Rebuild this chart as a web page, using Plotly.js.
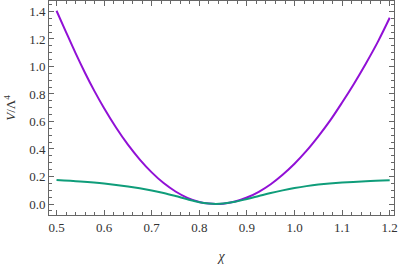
<!DOCTYPE html>
<html>
<head>
<meta charset="utf-8">
<script src="https://cdn.plot.ly/plotly-3.0.1.min.js"></script>
<style>html,body{margin:0;padding:0;background:#fff;}#plot{width:399px;height:266px;}</style>
</head>
<body>
<div id="plot"></div>
<script>
// chi values and potentials
const chiPurple = [0.50, 0.52, 0.54, 0.56, 0.58, 0.60, 0.625, 0.65, 0.675, 0.70, 0.725, 0.75, 0.775, 0.80, 0.82, 0.835, 0.85, 0.875, 0.90, 0.925, 0.95, 0.975, 1.00, 1.025, 1.05, 1.075, 1.10, 1.125, 1.15, 1.175, 1.20];
const vPurple   = [1.405, 1.250, 1.097, 0.953, 0.819, 0.696, 0.556, 0.431, 0.323, 0.230, 0.152, 0.091, 0.045, 0.015, 0.003, 0.0, 0.0025, 0.018, 0.047, 0.089, 0.144, 0.213, 0.293, 0.386, 0.492, 0.608, 0.738, 0.875, 1.022, 1.179, 1.354];

const chiGreen = [0.50, 0.55, 0.60, 0.65, 0.70, 0.725, 0.75, 0.775, 0.80, 0.82, 0.835, 0.85, 0.875, 0.90, 0.925, 0.95, 0.975, 1.00, 1.025, 1.05, 1.10, 1.15, 1.20];
const vGreen   = [0.175, 0.164, 0.149, 0.127, 0.098, 0.080, 0.058, 0.034, 0.013, 0.003, 0.0, 0.003, 0.016, 0.036, 0.058, 0.080, 0.099, 0.116, 0.130, 0.141, 0.156, 0.166, 0.172];

const xTickVals = [0.5, 0.6, 0.7, 0.8, 0.9, 1.0, 1.1, 1.2];
const xTickText = ["0.5", "0.6", "0.7", "0.8", "0.9", "1.0", "1.1", "1.2"];
const yTickVals = [0.0, 0.2, 0.4, 0.6, 0.8, 1.0, 1.2, 1.4];
const yTickText = ["0.0", "0.2", "0.4", "0.6", "0.8", "1.0", "1.2", "1.4"];

const SERIF = '"Liberation Serif", "Times New Roman", serif';

const traces = [
  {x: chiPurple, y: vPurple, mode: 'lines', line: {color: '#9110d6', width: 2, shape: 'spline', smoothing: 1}, hoverinfo: 'skip'},
  {x: chiGreen, y: vGreen, mode: 'lines', line: {color: '#0f9d7a', width: 2, shape: 'spline', smoothing: 1}, hoverinfo: 'skip'}
];

const axisCommon = {
  showgrid: false, zeroline: false, showline: true, linecolor: '#666', linewidth: 1,
  mirror: 'allticks', ticks: 'inside', ticklen: 5, tickcolor: '#666', tickwidth: 1,
  tickfont: {family: SERIF, size: 13, color: '#333'}
};

const layout = {
  width: 399, height: 266,
  margin: {l: 49, r: 5, t: 1, b: 51},
  paper_bgcolor: '#fff', plot_bgcolor: '#fff',
  font: {family: SERIF},
  showlegend: false,
  xaxis: Object.assign({}, axisCommon, {
    range: [0.4842, 1.209], tickmode: 'array', tickvals: xTickVals, ticktext: xTickText,
    minor: {dtick: 0.02, ticks: 'inside', ticklen: 3, tickcolor: '#666', showgrid: false},
    title: {text: '<i>χ</i>', standoff: 17, font: {family: SERIF, size: 14, color: '#333'}}
  }),
  yaxis: Object.assign({}, axisCommon, {
    range: [-0.08, 1.476], tickmode: 'array', tickvals: yTickVals, ticktext: yTickText,
    minor: {dtick: 0.05, ticks: 'inside', ticklen: 3, tickcolor: '#666', showgrid: false},
    title: {text: '<i>V</i>/Λ<sup>4</sup>', standoff: 10, font: {family: SERIF, size: 13, color: '#333'}}
  })
};

Plotly.newPlot('plot', traces, layout, {displayModeBar: false, staticPlot: true});
</script>
</body>
</html>
